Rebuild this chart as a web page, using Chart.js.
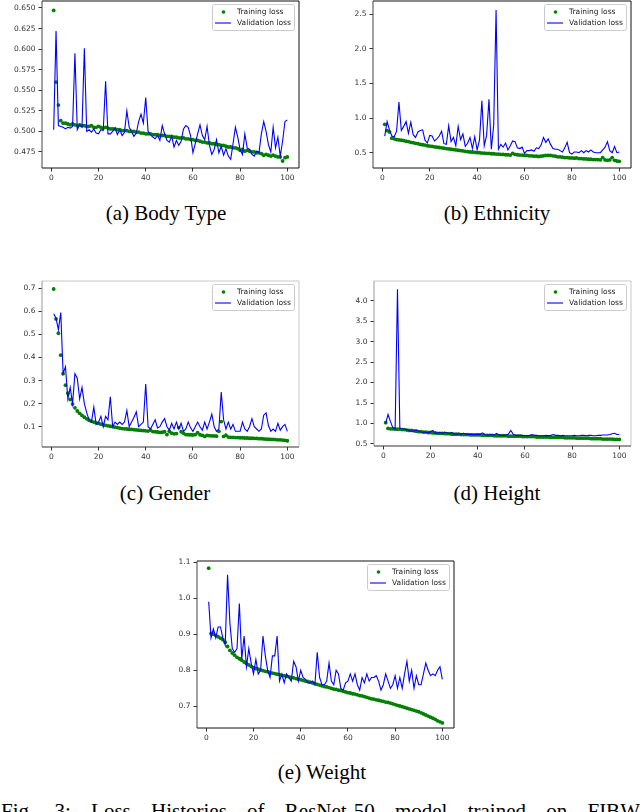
<!DOCTYPE html>
<html>
<head>
<meta charset="utf-8">
<script src="https://cdn.jsdelivr.net/npm/chart.js@4.4.0/dist/chart.umd.min.js"></script>
<style>
  html, body { margin: 0; padding: 0; width: 640px; height: 812px; overflow: hidden; background: #fff; }
  canvas { position: absolute; }
  .cap { position: absolute; font-family: "Liberation Serif", serif; font-size: 21px; line-height: 21px; white-space: nowrap; color: #000; }
  .sub { transform: translateX(-50%); }
</style>
</head>
<body>
<canvas id="chartA"></canvas>
<canvas id="chartB"></canvas>
<canvas id="chartC"></canvas>
<canvas id="chartD"></canvas>
<canvas id="chartE"></canvas>
<div class="cap sub" style="left:166px; top:203px;">(a) Body Type</div>
<div class="cap sub" style="left:497px; top:203px;">(b) Ethnicity</div>
<div class="cap sub" style="left:165px; top:483px;">(c) Gender</div>
<div class="cap sub" style="left:497px; top:483px;">(d) Height</div>
<div class="cap sub" style="left:322px; top:762px;">(e) Weight</div>
<div class="cap" style="left:1px; top:801px; word-spacing:15px;">Fig. 3: Loss Histories of ResNet-50 model trained on FIBW</div>
<script>
// loss values per epoch (1..100)
const trainA = [0.647,0.560,0.532,0.513,0.510,0.510,0.509,0.508,0.509,0.508,
  0.507,0.508,0.507,0.507,0.506,0.506,0.507,0.505,0.505,0.506,
  0.505,0.504,0.505,0.504,0.503,0.503,0.503,0.502,0.502,0.501,
  0.501,0.501,0.500,0.500,0.500,0.499,0.499,0.498,0.498,0.497,
  0.497,0.497,0.496,0.496,0.496,0.495,0.495,0.495,0.494,0.494,
  0.494,0.493,0.493,0.492,0.492,0.492,0.491,0.491,0.490,0.490,
  0.489,0.489,0.488,0.487,0.487,0.486,0.486,0.485,0.485,0.484,
  0.484,0.483,0.483,0.482,0.481,0.481,0.480,0.480,0.479,0.477,
  0.478,0.476,0.477,0.476,0.475,0.475,0.474,0.474,0.473,0.471,
  0.472,0.471,0.470,0.471,0.470,0.469,0.469,0.464,0.468,0.469];
const valA = [0.502,0.622,0.507,0.506,0.505,0.503,0.505,0.504,0.506,0.595,
  0.502,0.508,0.505,0.601,0.500,0.502,0.499,0.503,0.498,0.497,
  0.502,0.501,0.561,0.497,0.497,0.500,0.504,0.496,0.502,0.495,
  0.499,0.525,0.505,0.500,0.494,0.498,0.512,0.521,0.510,0.541,
  0.500,0.496,0.493,0.491,0.495,0.489,0.507,0.497,0.489,0.487,
  0.494,0.481,0.489,0.483,0.488,0.503,0.507,0.505,0.495,0.474,
  0.485,0.497,0.508,0.495,0.490,0.506,0.483,0.472,0.478,0.490,
  0.474,0.482,0.471,0.479,0.470,0.466,0.485,0.505,0.493,0.478,
  0.472,0.497,0.480,0.478,0.472,0.470,0.476,0.474,0.497,0.512,
  0.500,0.484,0.475,0.505,0.480,0.493,0.470,0.488,0.512,0.514];

const trainB = [0.91,0.82,0.80,0.71,0.70,0.69,0.685,0.68,0.675,0.665,
  0.66,0.65,0.645,0.635,0.63,0.62,0.615,0.61,0.60,0.595,
  0.59,0.585,0.58,0.575,0.57,0.565,0.56,0.555,0.55,0.545,
  0.54,0.535,0.53,0.525,0.52,0.515,0.51,0.51,0.505,0.50,
  0.50,0.495,0.495,0.49,0.49,0.485,0.485,0.48,0.48,0.475,
  0.475,0.47,0.47,0.465,0.49,0.475,0.47,0.465,0.465,0.46,
  0.46,0.455,0.455,0.45,0.45,0.445,0.45,0.455,0.46,0.46,
  0.46,0.455,0.45,0.44,0.44,0.435,0.43,0.43,0.425,0.425,
  0.42,0.425,0.415,0.415,0.41,0.41,0.405,0.405,0.40,0.40,
  0.40,0.395,0.43,0.395,0.39,0.395,0.43,0.39,0.38,0.375];
const valB = [0.74,0.95,0.83,0.74,0.73,0.81,1.23,0.82,0.88,0.95,
  0.78,0.94,0.76,0.72,0.80,0.82,0.83,0.68,0.64,0.75,
  0.74,0.67,0.70,0.74,0.81,0.63,0.62,0.89,0.66,0.72,
  0.60,0.88,0.69,0.77,0.59,0.64,0.72,0.56,0.73,0.54,
  0.68,1.25,0.60,0.75,1.27,0.55,0.90,2.56,0.55,0.62,
  0.58,0.64,0.54,0.60,0.67,0.66,0.57,0.56,0.58,0.49,
  0.53,0.53,0.54,0.52,0.57,0.56,0.61,0.72,0.65,0.70,
  0.62,0.56,0.55,0.55,0.53,0.51,0.57,0.65,0.50,0.48,
  0.51,0.51,0.50,0.53,0.50,0.53,0.51,0.54,0.51,0.50,
  0.50,0.50,0.54,0.58,0.66,0.53,0.50,0.59,0.50,0.51];

const trainC = [0.697,0.567,0.505,0.41,0.33,0.28,0.245,0.218,0.198,0.182,
  0.168,0.158,0.149,0.141,0.134,0.128,0.124,0.12,0.117,0.114,
  0.111,0.108,0.106,0.104,0.102,0.1,0.098,0.096,0.094,0.092,
  0.091,0.09,0.089,0.088,0.087,0.086,0.085,0.084,0.083,0.082,
  0.081,0.085,0.079,0.078,0.077,0.075,0.076,0.078,0.066,0.08,
  0.072,0.069,0.07,0.096,0.078,0.072,0.066,0.065,0.065,0.064,
  0.066,0.074,0.065,0.062,0.058,0.062,0.061,0.06,0.06,0.059,
  0.08,0.122,0.058,0.063,0.055,0.054,0.054,0.053,0.053,0.052,
  0.052,0.051,0.051,0.05,0.05,0.049,0.049,0.048,0.048,0.047,
  0.046,0.046,0.045,0.045,0.044,0.043,0.043,0.042,0.041,0.039];
const valC = [0.59,0.57,0.52,0.595,0.33,0.36,0.22,0.27,0.20,0.33,
  0.31,0.22,0.27,0.20,0.16,0.13,0.12,0.185,0.11,0.12,
  0.145,0.10,0.145,0.13,0.23,0.10,0.12,0.11,0.12,0.11,
  0.12,0.17,0.10,0.12,0.14,0.165,0.10,0.11,0.12,0.285,
  0.10,0.09,0.11,0.13,0.095,0.10,0.12,0.135,0.10,0.085,
  0.115,0.09,0.12,0.09,0.115,0.08,0.09,0.12,0.095,0.08,
  0.10,0.12,0.10,0.085,0.12,0.09,0.12,0.155,0.10,0.08,
  0.09,0.25,0.13,0.09,0.12,0.09,0.11,0.08,0.08,0.08,
  0.12,0.09,0.08,0.10,0.135,0.10,0.09,0.08,0.09,0.15,
  0.16,0.105,0.08,0.09,0.08,0.115,0.085,0.10,0.11,0.08];

const trainD = [1.02,0.88,0.87,0.87,0.86,0.86,0.86,0.85,0.85,0.84,
  0.83,0.83,0.82,0.81,0.80,0.80,0.79,0.79,0.78,0.78,
  0.77,0.77,0.76,0.76,0.76,0.75,0.75,0.75,0.74,0.74,
  0.74,0.74,0.73,0.73,0.73,0.73,0.72,0.72,0.72,0.72,
  0.72,0.71,0.71,0.71,0.71,0.71,0.70,0.70,0.70,0.70,
  0.70,0.70,0.69,0.69,0.69,0.69,0.69,0.69,0.68,0.68,
  0.68,0.68,0.68,0.68,0.67,0.67,0.67,0.67,0.67,0.67,
  0.66,0.66,0.66,0.66,0.66,0.66,0.65,0.65,0.65,0.65,
  0.65,0.64,0.64,0.64,0.64,0.64,0.64,0.63,0.63,0.63,
  0.63,0.63,0.62,0.62,0.62,0.62,0.62,0.61,0.61,0.61];
const valD = [1.00,1.22,1.05,0.90,0.87,4.28,0.88,0.87,0.86,0.85,
  0.83,0.81,0.82,0.84,0.81,0.79,0.78,0.79,0.77,0.80,
  0.83,0.76,0.77,0.78,0.76,0.79,0.77,0.75,0.78,0.74,
  0.74,0.75,0.74,0.76,0.74,0.73,0.74,0.73,0.73,0.74,
  0.73,0.77,0.73,0.72,0.72,0.73,0.72,0.76,0.72,0.71,
  0.71,0.72,0.74,0.83,0.74,0.71,0.71,0.71,0.71,0.70,
  0.70,0.71,0.73,0.71,0.71,0.70,0.70,0.70,0.71,0.70,
  0.71,0.73,0.71,0.71,0.70,0.71,0.70,0.70,0.70,0.70,
  0.71,0.70,0.70,0.71,0.71,0.70,0.71,0.71,0.70,0.70,
  0.71,0.71,0.72,0.72,0.72,0.73,0.75,0.76,0.73,0.73];

const trainE = [1.083,0.902,0.900,0.897,0.893,0.889,0.885,0.878,0.866,0.855,
  0.848,0.842,0.836,0.832,0.828,0.823,0.819,0.815,0.811,0.807,
  0.805,0.803,0.801,0.799,0.797,0.796,0.794,0.792,0.791,0.789,
  0.788,0.786,0.785,0.783,0.782,0.780,0.779,0.777,0.775,0.774,
  0.772,0.770,0.769,0.767,0.765,0.763,0.761,0.759,0.757,0.755,
  0.754,0.752,0.750,0.748,0.747,0.745,0.744,0.742,0.740,0.738,
  0.737,0.735,0.734,0.732,0.730,0.729,0.727,0.725,0.723,0.721,
  0.720,0.718,0.717,0.715,0.714,0.712,0.711,0.709,0.707,0.705,
  0.703,0.701,0.699,0.697,0.695,0.693,0.691,0.689,0.687,0.685,
  0.682,0.679,0.676,0.673,0.670,0.667,0.664,0.660,0.657,0.654];
const valE = [0.99,0.89,0.915,0.89,0.92,0.92,0.89,0.87,1.065,0.93,
  0.86,0.85,0.86,0.985,0.83,0.895,0.81,0.86,0.82,0.79,
  0.83,0.79,0.80,0.895,0.84,0.80,0.78,0.84,0.84,0.895,
  0.77,0.79,0.765,0.79,0.78,0.77,0.825,0.81,0.77,0.80,
  0.78,0.775,0.765,0.765,0.77,0.76,0.85,0.78,0.76,0.76,
  0.77,0.82,0.77,0.76,0.80,0.79,0.75,0.745,0.765,0.77,
  0.79,0.77,0.79,0.76,0.745,0.78,0.765,0.79,0.77,0.78,
  0.78,0.785,0.77,0.745,0.76,0.79,0.77,0.75,0.76,0.785,
  0.75,0.78,0.75,0.79,0.825,0.77,0.80,0.75,0.785,0.76,
  0.76,0.79,0.82,0.80,0.785,0.79,0.785,0.80,0.81,0.775];

const xTicks = [0, 20, 40, 60, 80, 100];
const yTicksA = [0.475, 0.500, 0.525, 0.550, 0.575, 0.600, 0.625, 0.650];
const yTicksB = [0.5, 1.0, 1.5, 2.0, 2.5];
const yTicksC = [0.1, 0.2, 0.3, 0.4, 0.5, 0.6, 0.7];
const yTicksD = [0.5, 1.0, 1.5, 2.0, 2.5, 3.0, 3.5, 4.0];
const yTicksE = [0.7, 0.8, 0.9, 1.0, 1.1];

const tickFont = { family: 'DejaVu Sans', size: 7.5 };
const tickColor = '#333';

// axes frame (all four spines, like matplotlib)
const framePlugin = {
  id: 'frame',
  afterDatasetsDraw(chart, args, opts) {
    const { ctx, chartArea: a } = chart;
    const s = opts.spines;
    ctx.save();
    ctx.lineWidth = 1;
    const seg = (c, x1, y1, x2, y2) => { ctx.strokeStyle = c; ctx.beginPath(); ctx.moveTo(x1, y1); ctx.lineTo(x2, y2); ctx.stroke(); };
    seg(s.top, a.left, a.top, a.right, a.top);
    seg(s.right, a.right, a.top, a.right, a.bottom);
    seg(s.left, a.left, a.top, a.left, a.bottom);
    seg(s.bottom, a.left, a.bottom, a.right, a.bottom);
    ctx.restore();
  }
};

// matplotlib-style legend in the upper right corner
const legendPlugin = {
  id: 'mplLegend',
  afterDraw(chart) {
    const { ctx, chartArea: a } = chart;
    const ds = chart.data.datasets;
    const w = 82, h = 26;
    const x = a.right - 4.5 - w, y = a.top + 3.5;
    ctx.save();
    ctx.fillStyle = 'rgba(255,255,255,0.8)';
    ctx.strokeStyle = '#cccccc';
    ctx.lineWidth = 1;
    ctx.beginPath();
    ctx.roundRect(x, y, w, h, 2);
    ctx.fill();
    ctx.stroke();
    ctx.font = '7.5px "DejaVu Sans"';
    ctx.textBaseline = 'middle';
    // training: dot marker
    ctx.fillStyle = ds[0].pointBackgroundColor;
    ctx.beginPath();
    ctx.arc(x + 11, y + 7.5, 1.8, 0, Math.PI * 2);
    ctx.fill();
    ctx.fillStyle = '#222';
    ctx.fillText(ds[0].label, x + 24.5, y + 7.5);
    // validation: line
    ctx.strokeStyle = ds[1].borderColor;
    ctx.lineWidth = 1.1;
    ctx.beginPath();
    ctx.moveTo(x + 2.5, y + 18.5);
    ctx.lineTo(x + 18.5, y + 18.5);
    ctx.stroke();
    ctx.fillStyle = '#222';
    ctx.fillText(ds[1].label, x + 24.5, y + 18.5);
    ctx.restore();
  }
};

function makeChart(id, train, val, yTicks, digits, yMin, yMax, box, spines) {
  const canvas = document.getElementById(id);
  const padL = 40, padT = 8, padR = 8, padB = 22;
  const w = Math.round(box.r - box.l), h = Math.round(box.b - box.t);
  canvas.width = w + padL + padR;
  canvas.height = h + padT + padB;
  canvas.style.width = canvas.width + 'px';
  canvas.style.height = canvas.height + 'px';
  canvas.style.left = (box.l - padL) + 'px';
  canvas.style.top = (box.t - padT) + 'px';

  const epochs = train.map((_, i) => i + 1);

  return new Chart(canvas.getContext('2d'), {
    type: 'line',
    data: {
      datasets: [
        {
          label: 'Training loss',
          data: epochs.map((e, i) => ({ x: e, y: train[i] })),
          showLine: false,
          pointRadius: 1.9,
          pointBorderWidth: 0,
          pointBackgroundColor: '#008000',
          order: 2
        },
        {
          label: 'Validation loss',
          data: epochs.map((e, i) => ({ x: e, y: val[i] })),
          borderColor: '#0000ff',
          borderWidth: 1.1,
          pointRadius: 0,
          tension: 0,
          order: 1
        }
      ]
    },
    options: {
      responsive: false,
      animation: false,
      layout: { padding: { left: 0, top: padT, right: padR, bottom: 0 } },
      plugins: {
        legend: { display: false },
        tooltip: { enabled: false },
        frame: { spines: spines }
      },
      scales: {
        x: {
          type: 'linear',
          min: -3.95,
          max: 104.95,
          afterBuildTicks: s => { s.ticks = xTicks.map(v => ({ value: v })); },
          afterFit: s => { s.height = padB; },
          ticks: { font: tickFont, color: tickColor, padding: 2, maxRotation: 0, autoSkip: false, callback: v => String(v) },
          grid: { drawOnChartArea: false, drawTicks: true, tickLength: 3.5, color: '#333' },
          border: { display: false }
        },
        y: {
          min: yMin,
          max: yMax,
          afterBuildTicks: s => { s.ticks = yTicks.map(v => ({ value: v })); },
          afterFit: s => { s.width = padL; },
          ticks: { font: tickFont, color: tickColor, padding: 3, autoSkip: false, callback: v => v.toFixed(digits) },
          grid: { drawOnChartArea: false, drawTicks: true, tickLength: 3.5, color: '#333' },
          border: { display: false }
        }
      }
    },
    plugins: [framePlugin, legendPlugin]
  });
}

const darkSpines = { top: '#111', right: '#111', left: '#444', bottom: '#111' };
const lightSpines = { top: '#c8c8c8', right: '#c8c8c8', left: '#999', bottom: '#333' };

makeChart('chartA', trainA, valA, yTicksA, 3, 0.4555, 0.6585, { l: 42, t: 0.5, r: 299, b: 167 }, darkSpines);
makeChart('chartB', trainB, valB, yTicksB, 1, 0.279, 2.69, { l: 373, t: 0.5, r: 631, b: 167 }, darkSpines);
makeChart('chartC', trainC, valC, yTicksC, 1, 0.012, 0.7316, { l: 42, t: 280.5, r: 299, b: 446 }, lightSpines);
makeChart('chartD', trainD, valD, yTicksD, 1, 0.45, 4.48, { l: 374, t: 281, r: 631, b: 446 }, lightSpines);
makeChart('chartE', trainE, valE, yTicksE, 1, 0.64, 1.103, { l: 196.5, t: 560.5, r: 453, b: 727.5 }, darkSpines);
</script>
</body>
</html>
